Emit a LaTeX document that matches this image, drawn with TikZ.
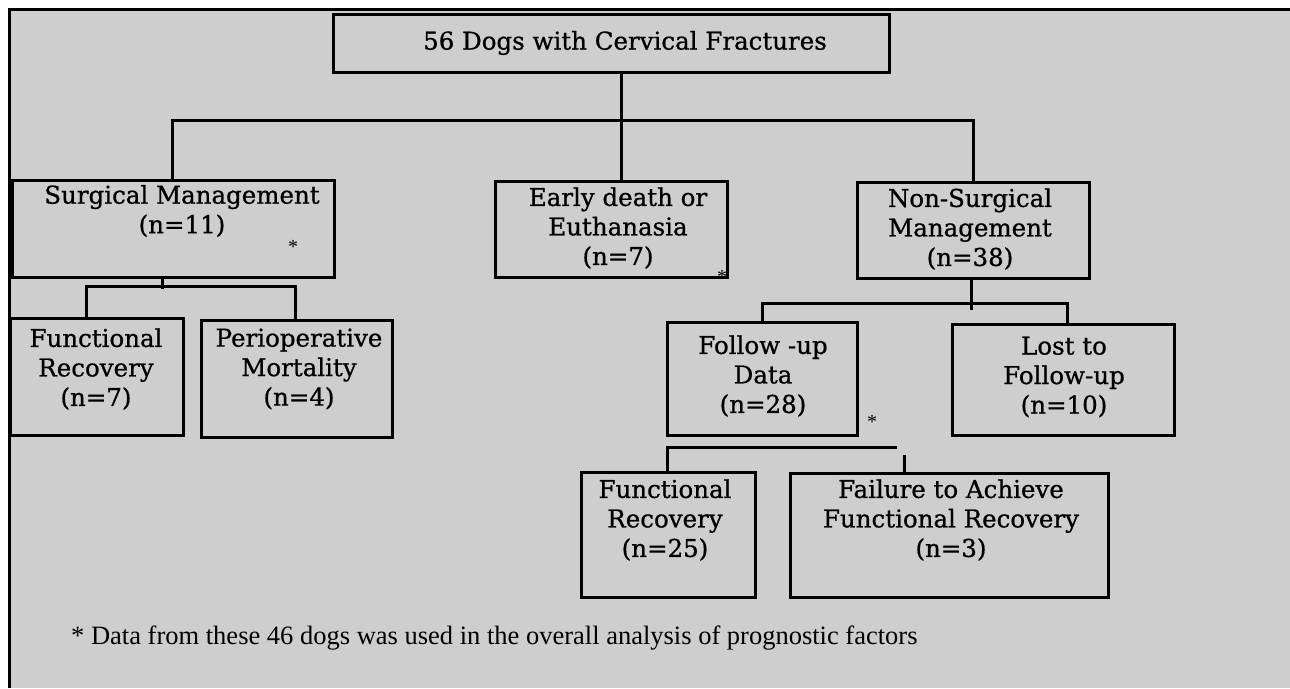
\documentclass[tikz,border=0pt]{standalone}
\usepackage{fontspec}
\setmainfont{Liberation Serif}
\newfontfamily\boxfont[FakeBold=0.8]{DejaVu Serif}
\definecolor{bggray}{RGB}{206,206,206}
\begin{document}
\begin{tikzpicture}[x=1pt,y=-1pt,
  boxst/.style={draw, line width=3pt, inner sep=0pt},
  txt/.style={font=\boxfont\fontsize{24.5}{29.5}\selectfont, align=center, inner sep=0pt},
  foot/.style={font=\fontsize{26.5}{30}\selectfont, inner sep=0pt},
  astr/.style={font=\fontsize{20}{20}\selectfont, inner sep=0pt},
  conn/.style={line width=3pt}]
\useasboundingbox (0,0) rectangle (1290,688);
\fill[white] (0,0) rectangle (1290,688);
\fill[bggray] (8,8) rectangle (1290,688);
\draw[line width=3pt] (9,688) -- (9,9) -- (1290,9);

% boxes
\node[boxst, minimum width=556pt, minimum height=58pt] (top) at (611,43) {};
\node[boxst, minimum width=322pt, minimum height=97pt] (surg) at (173,228.5) {};
\node[boxst, minimum width=232pt, minimum height=96pt] (early) at (611,229) {};
\node[boxst, minimum width=232pt, minimum height=96pt] (nons) at (973,230) {};
\node[boxst, minimum width=173pt, minimum height=117pt] (func7) at (96.5,376.5) {};
\node[boxst, minimum width=191pt, minimum height=117pt] (peri) at (296.5,378.5) {};
\node[boxst, minimum width=190pt, minimum height=113pt] (follow) at (762,378.5) {};
\node[boxst, minimum width=222pt, minimum height=111pt] (lost) at (1063,379.5) {};
\node[boxst, minimum width=174pt, minimum height=125pt] (func25) at (668,534.5) {};
\node[boxst, minimum width=318pt, minimum height=124pt] (fail) at (949,535) {};

% texts
\node[txt] (ttop) at (625,43) {56 Dogs with Cervical Fractures};
\node[txt] (tsurg) at (182,211) {Surgical Management\\(n=11)};
\node[txt] (tearly) at (618,228) {Early death or\\Euthanasia\\(n=7)};
\node[txt] (tnons) at (970,229) {Non-Surgical\\Management\\(n=38)};
\node[txt] (tfunc7) at (96,369) {Functional\\Recovery\\(n=7)};
\node[txt] (tperi) at (299,369) {Perioperative\\Mortality\\(n=4)};
\node[txt] (tfollow) at (763,376) {Follow -up\\Data\\(n=28)};
\node[txt] (tlost) at (1064,377) {Lost to\\Follow-up\\(n=10)};
\node[txt] (tfunc25) at (665,520) {Functional\\Recovery\\(n=25)};
\node[txt] (tfail) at (951,520) {Failure to Achieve\\Functional Recovery\\(n=3)};

% asterisks
\node[astr] (s1) at (293,247) {*};
\node[astr] (s2) at (722,277) {*};
\node[astr] (s3) at (872,422) {*};

% footnote
\node[foot, anchor=west] (note) at (71,638) {* Data from these 46 dogs was used in the overall analysis of prognostic factors};

% connectors: top level
\coordinate (jm) at (621,120);
\coordinate (hL) at (172,120);
\coordinate (hR) at (973,120);
\draw[conn] (top.south -| jm) -- (early.north -| jm);
\draw[conn] (surg.north -| hL) -- (hL) -- (hR) -- (nons.north -| hR);

% surgical branch
\coordinate (sv) at (162,289);
\coordinate (sL) at (86,286);
\coordinate (sR) at (295,286);
\draw[conn] (surg.south -| sv) -- (sv);
\draw[conn] (func7.north -| sL) -- (sL) -- (sR) -- (peri.north -| sR);

% non-surgical branch
\coordinate (nv) at (971,310);
\coordinate (nL) at (762,303);
\coordinate (nR) at (1067,303);
\draw[conn] (nons.south -| nv) -- (nv);
\draw[conn] (follow.north -| nL) -- (nL) -- (nR) -- (lost.north -| nR);

% follow-up branch
\coordinate (fL) at (667,447);
\coordinate (fR) at (897,447);
\coordinate (fR2) at (904,455);
\draw[conn] (func25.north -| fL) -- (fL) -- (fR);
\draw[conn] (fR2) -- (fail.north -| fR2);
\end{tikzpicture}
\end{document}
